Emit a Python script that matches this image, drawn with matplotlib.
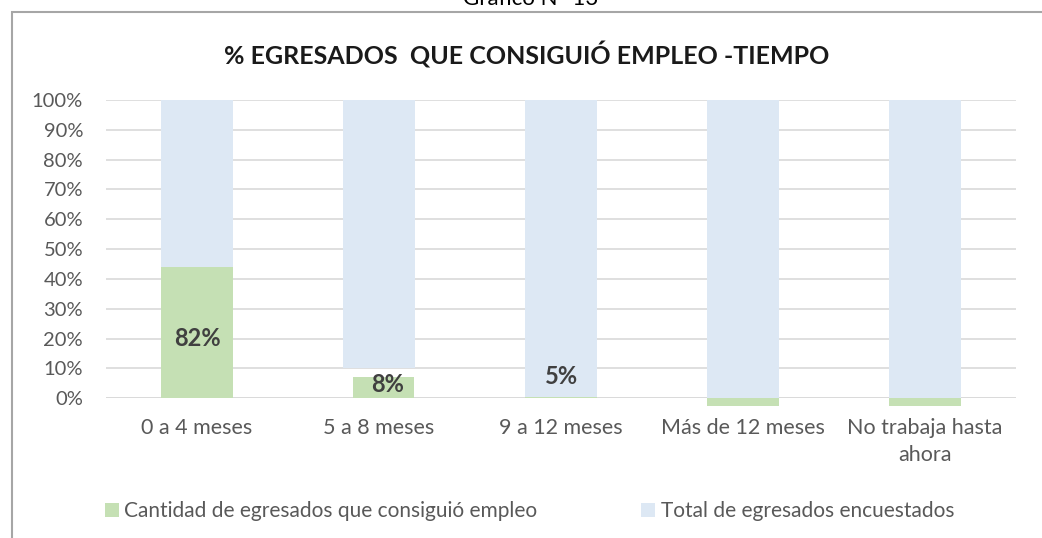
import matplotlib.pyplot as plt
from matplotlib.patches import Rectangle
import numpy as np

plt.rcParams['font.family'] = ['Lato', 'DejaVu Sans']

categorias = ['0 a 4 meses', '5 a 8 meses', '9 a 12 meses', 'Más de 12 meses', 'No trabaja hasta\nahora']
consiguio = [0.44, 0.07, 0.005, -0.025, -0.025]
total_base = [0.0, 0.10, 0.0, 0.0, 0.0]
total_tope = [1.0, 1.0, 1.0, 1.0, 1.0]
etiquetas = ['82%', '8%', '5%', '', '']

# look of the bars / labels
verde = '#c5e0b4'
azul = '#dde8f4'
ancho = 0.4
ancho_verde = [0.4, 0.335, 0.4, 0.4, 0.4]
desp_verde = [0.0, 0.026, 0.0, 0.0, 0.0]
y_etiqueta = [0.20, 0.045, 0.072, 0, 0]

fig = plt.figure(figsize=(10.42, 5.38), dpi=100)
ax = fig.add_axes([106/1042, 1-398.3/538, 910/1042, 298.3/538])

x = np.arange(len(categorias))
alto_total = [t - b for t, b in zip(total_tope, total_base)]
ax.bar(x, alto_total, bottom=total_base, width=ancho, color=azul, zorder=2,
       label='Total de egresados encuestados')
ax.bar(x + np.array(desp_verde), consiguio, width=ancho_verde, color=verde, zorder=3,
       clip_on=False, label='Cantidad de egresados que consiguió empleo')

for i, t in enumerate(etiquetas):
    if t:
        ax.text(x[i] + desp_verde[i] + 0.02 * (i == 1), y_etiqueta[i], t, ha='center', va='center',
                fontsize=17, fontweight='bold', color='#404040', zorder=4)

ax.set_xlim(-0.5, len(categorias) - 0.5)
ax.set_ylim(0, 1.0)
ax.set_yticks(np.arange(0, 1.01, 0.1))
ax.set_yticklabels([f'{int(round(v*100))}%' for v in np.arange(0, 1.01, 0.1)])
ax.set_xticks(x)
ax.set_xticklabels(categorias, linespacing=1.44)
ax.tick_params(axis='both', length=0, colors='#595959')
ax.tick_params(axis='x', pad=14, labelsize=15.5)
ax.tick_params(axis='y', pad=16.5, labelsize=14.5)
ax.yaxis.grid(True, color='#d9d9d9', linewidth=1.2, zorder=0)
ax.set_axisbelow(True)
for s in ax.spines.values():
    s.set_visible(False)
ax.axhline(0, color='#d9d9d9', linewidth=1.2, zorder=1)

fig.text(527/1042, 1 - 55/538, '% EGRESADOS  QUE CONSIGUIÓ EMPLEO -TIEMPO', ha='center', va='center',
         fontsize=18, fontweight='bold', color='#1a1a1a')
fig.text(531/1042, 1 + 1/538, 'Gráfico N° 13', ha='center', va='center', fontsize=16, color='#000000')

# chart frame
fig.patches.append(Rectangle((12/1042, -0.1), 1.2, 1 - 12/538 + 0.1, transform=fig.transFigure,
                             fill=False, edgecolor='#a6a6a6', linewidth=1.5))

h, l = ax.get_legend_handles_labels()
fig.legend(h[::-1], l[::-1], loc='center', bbox_to_anchor=(529.5/1042, 1 - 511/538), ncol=2,
           frameon=False, fontsize=15, labelcolor='#595959', handlelength=0.67, handleheight=0.67,
           handletextpad=0.25, columnspacing=5.0, borderpad=0, borderaxespad=0)

fig.savefig('out.png', dpi=100)
